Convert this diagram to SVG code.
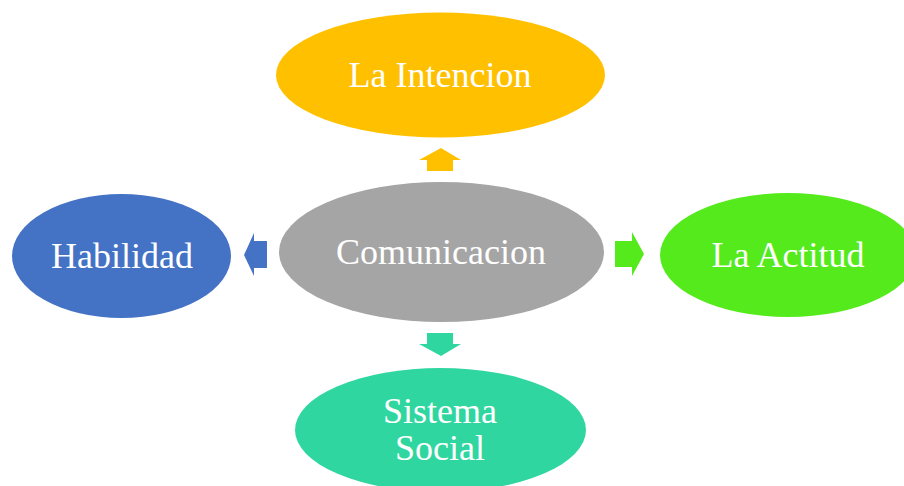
<svg xmlns="http://www.w3.org/2000/svg" width="904" height="486" viewBox="0 0 904 486">
<style>
text{font-family:"Liberation Serif","Times New Roman",serif;font-size:36px;fill:#fff;text-anchor:middle}
</style>
<rect width="904" height="486" fill="#fff"/>
<g id="connectors">
<polygon points="441,148 461,160 453,160 453,171 427,171 427,160 419,160" fill="#ffc000"/>
<polygon points="244,255 254,233 254,241 267,241 267,268 254,268 254,276" fill="#4472c4"/>
<polygon points="644,254 632,232 632,241 615,241 615,267 632,267 632,276" fill="#54ea1c"/>
<polygon points="441,356 461,344 453,344 453,333 427,333 427,344 419,344" fill="#2fd6a0"/>
</g>
<g id="intencion"><ellipse cx="440.5" cy="75" rx="164.5" ry="62.5" fill="#ffc000"/><text x="440" y="87">La Intencion</text></g>
<g id="comunicacion"><ellipse cx="441.5" cy="252" rx="162.5" ry="70" fill="#a5a5a5"/><text x="441" y="264">Comunicacion</text></g>
<g id="habilidad"><ellipse cx="121.5" cy="256" rx="109.5" ry="62" fill="#4472c4"/><text x="122" y="268">Habilidad</text></g>
<g id="actitud"><ellipse cx="788" cy="255" rx="128" ry="62" fill="#54ea1c"/><text x="788" y="267">La Actitud</text></g>
<g id="sistema"><ellipse cx="440.5" cy="430" rx="145.5" ry="62" fill="#2fd6a0"/><text x="440" y="423">Sistema</text><text x="440" y="460">Social</text></g>
</svg>
